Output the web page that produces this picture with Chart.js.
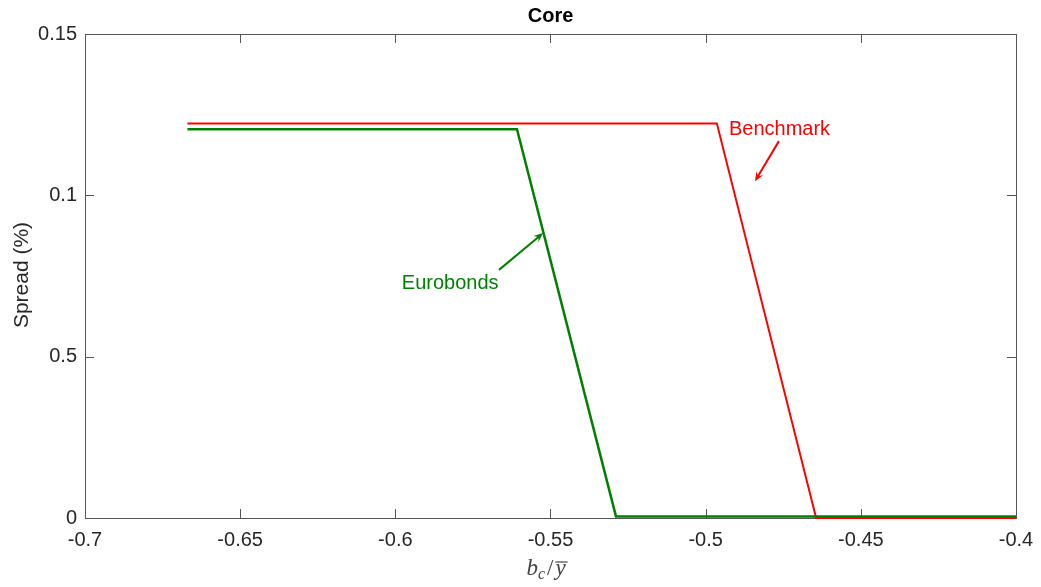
<!DOCTYPE html>
<html>
<head>
<meta charset="utf-8">
<script src="https://cdn.jsdelivr.net/npm/chart.js@4.4.0/dist/chart.umd.min.js"></script>
<style>
  html, body { margin: 0; padding: 0; background: #fff; }
  #wrap { width: 1041px; height: 587px; }
</style>
</head>
<body>
<div id="wrap"><canvas id="grafico" width="1041" height="587"></canvas></div>
<script>
// dados
const benchX = [-0.667, -0.4964, -0.4644, -0.4]
const benchY = [0.1223, 0.1223, 0, 0]
const euroX = [-0.667, -0.5608, -0.5289, -0.4]
const euroY = [0.1205, 0.1205, 0.0005, 0.0005]

const xTicks = [-0.7, -0.65, -0.6, -0.55, -0.5, -0.45, -0.4]
const xTickLabels = ['-0.7', '-0.65', '-0.6', '-0.55', '-0.5', '-0.45', '-0.4']
const yTicks = [0, 0.05, 0.1, 0.15]
const yTickLabels = ['0', '0.5', '0.1', '0.15']

// anotações (em unidades dos dados)
const notaBench = { texto: 'Benchmark', x: -0.4925, y: 0.1187, de: [-0.4764, 0.1168], para: [-0.4841, 0.1044] }
const notaEuro = { texto: 'Eurobonds', x: -0.5979, y: 0.0710, de: [-0.5666, 0.0769], para: [-0.5524, 0.0883] }

const corTexto = '#262626'
const corEixo = '#555555'

function pontos(xs, ys) {
    return xs.map((x, i) => ({ x: x, y: ys[i] }))
}

function desenharSeta(ctx, x1, y1, x2, y2, cor) {
    const ang = Math.atan2(y2 - y1, x2 - x1)
    const tam = 10
    ctx.save()
    ctx.strokeStyle = cor
    ctx.fillStyle = cor
    ctx.lineWidth = 2
    ctx.beginPath()
    ctx.moveTo(x1, y1)
    ctx.lineTo(x2 - Math.cos(ang) * 4, y2 - Math.sin(ang) * 4)
    ctx.stroke()
    ctx.beginPath()
    ctx.moveTo(x2, y2)
    ctx.lineTo(x2 - tam * Math.cos(ang - 0.4), y2 - tam * Math.sin(ang - 0.4))
    ctx.lineTo(x2 - tam * 0.6 * Math.cos(ang), y2 - tam * 0.6 * Math.sin(ang))
    ctx.lineTo(x2 - tam * Math.cos(ang + 0.4), y2 - tam * Math.sin(ang + 0.4))
    ctx.closePath()
    ctx.fill()
    ctx.restore()
}

// caixa, ticks para dentro, títulos e anotações (estilo matlab)
const pluginMoldura = {
    id: 'moldura',
    beforeDatasetsDraw(chart) {
        const ctx = chart.ctx
        const a = chart.chartArea
        const sx = chart.scales.x
        const sy = chart.scales.y
        ctx.save()
        ctx.strokeStyle = corEixo
        ctx.lineWidth = 1
        ctx.strokeRect(a.left + 0.5, a.top + 0.5, a.right - a.left, a.bottom - a.top)
        const t = 9
        ctx.beginPath()
        xTicks.forEach(v => {
            const px = Math.round(sx.getPixelForValue(v)) + 0.5
            ctx.moveTo(px, a.bottom); ctx.lineTo(px, a.bottom - t)
            ctx.moveTo(px, a.top); ctx.lineTo(px, a.top + t)
        })
        yTicks.forEach(v => {
            const py = Math.round(sy.getPixelForValue(v)) + 0.5
            ctx.moveTo(a.left, py); ctx.lineTo(a.left + t, py)
            ctx.moveTo(a.right, py); ctx.lineTo(a.right - t, py)
        })
        ctx.stroke()
        ctx.restore()
    },
    afterDraw(chart) {
        const ctx = chart.ctx
        const a = chart.chartArea
        const sx = chart.scales.x
        const sy = chart.scales.y
        ctx.save()

        // título
        ctx.fillStyle = '#000'
        ctx.font = 'bold 20px "Liberation Sans", Arial, sans-serif'
        ctx.textAlign = 'center'
        ctx.textBaseline = 'middle'
        ctx.fillText('Core', (a.left + a.right) / 2, 16)

        // título do eixo y
        ctx.save()
        ctx.translate(22, 275)
        ctx.rotate(-Math.PI / 2)
        ctx.fillStyle = corTexto
        ctx.font = '21px "Liberation Sans", Arial, sans-serif'
        ctx.fillText('Spread (%)', 0, 0)
        ctx.restore()

        // título do eixo x: b_c / y-barra
        ctx.fillStyle = '#444'
        ctx.textAlign = 'left'
        ctx.textBaseline = 'alphabetic'
        const base = 575
        const fItal = 'italic 23px "Liberation Serif", "Times New Roman", serif'
        const fSub = 'italic 16px "Liberation Serif", "Times New Roman", serif'
        const fReto = '23px "Liberation Serif", "Times New Roman", serif'
        ctx.font = fItal
        const wb = ctx.measureText('b').width
        ctx.font = fSub
        const wc = ctx.measureText('c').width
        ctx.font = fReto
        const ws = ctx.measureText('/').width
        ctx.font = fItal
        const wy = ctx.measureText('y').width
        const total = wb + wc + ws + wy + 4
        let x0 = 546 - total / 2
        ctx.font = fItal
        ctx.fillText('b', x0, base)
        x0 += wb
        ctx.font = fSub
        ctx.fillText('c', x0, base + 4)
        x0 += wc + 2
        ctx.font = fReto
        ctx.fillText('/', x0, base)
        x0 += ws + 2
        ctx.font = fItal
        ctx.fillText('y', x0, base)
        ctx.strokeStyle = '#444'
        ctx.lineWidth = 1.2
        ctx.beginPath()
        ctx.moveTo(x0, base - 13)
        ctx.lineTo(x0 + wy + 2, base - 13)
        ctx.stroke()

        // anotações
        ctx.font = '20px "Liberation Sans", Arial, sans-serif'
        ;[[notaBench, '#ff0000'], [notaEuro, '#008000']].forEach(([n, cor]) => {
            ctx.fillStyle = cor
            ctx.fillText(n.texto, sx.getPixelForValue(n.x), sy.getPixelForValue(n.y))
            desenharSeta(ctx,
                sx.getPixelForValue(n.de[0]), sy.getPixelForValue(n.de[1]),
                sx.getPixelForValue(n.para[0]), sy.getPixelForValue(n.para[1]), cor)
        })
        ctx.restore()
    }
}

const ctx = document.getElementById('grafico').getContext('2d')

new Chart(ctx, {
    type: 'scatter',
    data: {
        datasets: [
            {
                label: 'Benchmark',
                data: pontos(benchX, benchY),
                showLine: true,
                borderColor: '#ff0000',
                borderWidth: 2,
                pointRadius: 0,
                tension: 0,
                order: 2
            },
            {
                label: 'Eurobonds',
                data: pontos(euroX, euroY),
                showLine: true,
                borderColor: '#008000',
                borderWidth: 2.5,
                pointRadius: 0,
                tension: 0,
                order: 1
            }
        ]
    },
    options: {
        responsive: false,
        animation: false,
        clip: false,
        layout: {
            padding: { top: 34, right: 25, left: 0, bottom: 0 }
        },
        scales: {
            x: {
                type: 'linear',
                min: -0.7,
                max: -0.4,
                afterFit: s => { s.height = 69 },
                afterBuildTicks: s => { s.ticks = xTicks.map(v => ({ value: v })) },
                grid: { display: false },
                border: { display: false },
                ticks: {
                    padding: 2,
                    color: corTexto,
                    font: { family: '"Liberation Sans", Arial, sans-serif', size: 20 },
                    callback: (v, i) => xTickLabels[i]
                }
            },
            y: {
                type: 'linear',
                min: 0,
                max: 0.15,
                afterFit: s => { s.width = 85 },
                afterBuildTicks: s => { s.ticks = yTicks.map(v => ({ value: v })) },
                grid: { display: false },
                border: { display: false },
                ticks: {
                    padding: 0,
                    color: corTexto,
                    font: { family: '"Liberation Sans", Arial, sans-serif', size: 20 },
                    callback: (v, i) => yTickLabels[i]
                }
            }
        },
        plugins: {
            legend: { display: false },
            tooltip: { enabled: false }
        }
    },
    plugins: [pluginMoldura]
})
</script>
</body>
</html>
